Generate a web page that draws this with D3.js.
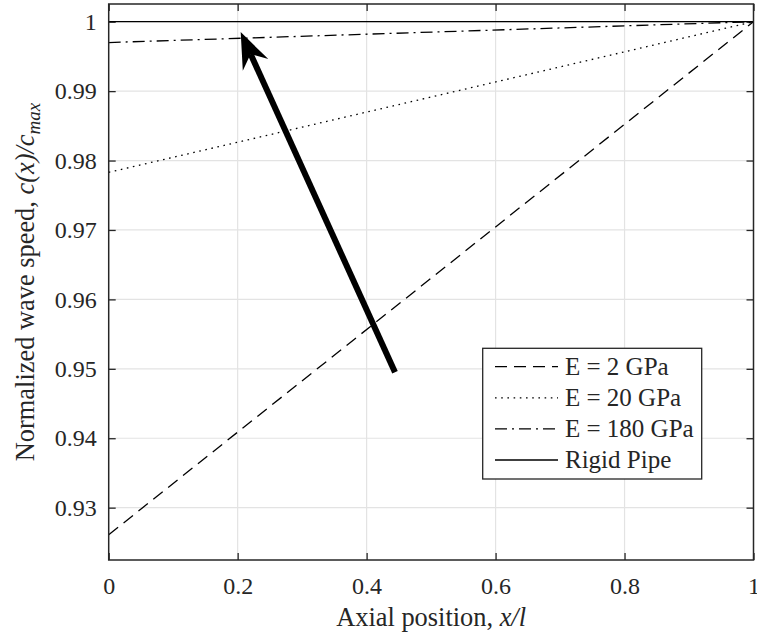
<!DOCTYPE html>
<html>
<head>
	<meta charset="utf-8"/>
	<title>Normalized wave speed</title>
	<style>
		body { margin: 0; background: #fff; }
		svg text { font-family: "Liberation Serif", "Times New Roman", serif; fill: #262626; }
	</style>
</head>
<body>
	<svg width="757" height="636" id="viz" font-family="Liberation Serif, Times New Roman, serif"></svg>

	<script src="https://cdn.jsdelivr.net/npm/d3@7"></script>
	<script>

		//Datos
		var posicion = [0, 1];
		var e2 = [0.9261, 1];
		var e20 = [0.9783, 1];
		var e180 = [0.9970, 1];
		var rigida = [1, 1];
		var nombres = ["E = 2 GPa", "E = 20 GPa", "E = 180 GPa", "Rigid Pipe"];
		var xTicks = [0, 0.2, 0.4, 0.6, 0.8, 1];
		var yTicks = [0.93, 0.94, 0.95, 0.96, 0.97, 0.98, 0.99, 1];
		var flechaDesde = [0.444, 0.9495], flechaHasta = [0.2047, 0.9985];

		var series = [e2, e20, e180, rigida];
		var estilos = ["12,7", "1.6,4.6", "12,5,2,5", null];

		//Escalas
		const mLeft = 108.7, mRight = 753.5, mTop = 4, mBottom = 560;
		const fuente = "Liberation Serif";

		const x = d3.scaleLinear().domain([0, 1]).range([mLeft, mRight]);
		const y = d3.scaleLinear().domain([0.92246, 1.00255]).range([mBottom, mTop]);

		var svg = d3.select("#viz");

		//Grid
		svg.append("g").selectAll("line").data(xTicks.slice(1, -1)).join("line")
			.attr("x1", d => x(d)).attr("x2", d => x(d))
			.attr("y1", mTop).attr("y2", mBottom)
			.attr("stroke", "#e3e3e3").attr("stroke-width", 1.2);
		svg.append("g").selectAll("line").data(yTicks).join("line")
			.attr("x1", mLeft).attr("x2", mRight)
			.attr("y1", d => y(d)).attr("y2", d => y(d))
			.attr("stroke", "#e3e3e3").attr("stroke-width", 1.2);

		//Ejes (ticks hacia adentro, caja completa)
		const fmt = d => d3.format("")(+d.toFixed(2));
		svg.append("g").attr("transform", `translate(0,${mBottom})`)
			.call(d3.axisBottom(x).tickValues(xTicks).tickSize(-7).tickPadding(17).tickFormat(fmt))
			.attr("font-family", fuente)
			.call(g => g.select(".domain").remove())
			.call(g => g.selectAll("text").attr("font-size", 24).attr("dy", "0.71em"));
		svg.append("g").attr("transform", `translate(0,${mTop})`)
			.call(d3.axisTop(x).tickValues(xTicks).tickSize(-7).tickFormat(""))
			.call(g => g.select(".domain").remove());
		svg.append("g").attr("transform", `translate(${mLeft},0)`)
			.call(d3.axisLeft(y).tickValues(yTicks).tickSize(-7).tickPadding(12).tickFormat(fmt))
			.attr("font-family", fuente)
			.call(g => g.select(".domain").remove())
			.call(g => g.selectAll("text").attr("font-size", 24));
		svg.append("g").attr("transform", `translate(${mRight},0)`)
			.call(d3.axisRight(y).tickValues(yTicks).tickSize(-7).tickFormat(""))
			.call(g => g.select(".domain").remove());
		svg.selectAll(".tick line").attr("stroke", "#262626").attr("stroke-width", 1.3);

		//Lineas
		const linea = d3.line().x((d, i) => x(posicion[i])).y(d => y(d));
		svg.append("g").selectAll("path").data(series).join("path")
			.attr("d", d => linea(d))
			.attr("fill", "none")
			.attr("stroke", "#000")
			.attr("stroke-width", 1.3)
			.attr("stroke-dasharray", (d, i) => estilos[i]);

		//Caja
		svg.append("rect")
			.attr("x", mLeft).attr("y", mTop)
			.attr("width", mRight - mLeft).attr("height", mBottom - mTop)
			.attr("fill", "none").attr("stroke", "#262626").attr("stroke-width", 1.5);

		//Flecha
		var x0 = x(flechaDesde[0]), y0 = y(flechaDesde[1]);
		var x1 = x(flechaHasta[0]), y1 = y(flechaHasta[1]);
		var dx = x0 - x1, dy = y0 - y1, len = Math.hypot(dx, dy);
		var ux = dx / len, uy = dy / len, px = -uy, py = ux;
		var largo = 36, ancho = 14, muesca = 24;
		svg.append("line")
			.attr("x1", x0).attr("y1", y0)
			.attr("x2", x1 + ux * muesca).attr("y2", y1 + uy * muesca)
			.attr("stroke", "#000").attr("stroke-width", 6);
		svg.append("path")
			.attr("d", d3.line()([
				[x1, y1],
				[x1 + ux * largo + px * ancho, y1 + uy * largo + py * ancho],
				[x1 + ux * muesca, y1 + uy * muesca],
				[x1 + ux * largo - px * ancho, y1 + uy * largo - py * ancho]
			]) + "Z")
			.attr("fill", "#000");

		//Etiquetas de ejes
		svg.append("text")
			.attr("x", (mLeft + mRight) / 2).attr("y", 626)
			.attr("text-anchor", "middle").attr("font-size", 26.4)
			.call(t => {
				t.append("tspan").text("Axial position, ");
				t.append("tspan").attr("font-style", "italic").text("x/l");
			});
		svg.append("text")
			.attr("transform", `translate(34,${(mTop + mBottom) / 2}) rotate(-90)`)
			.attr("text-anchor", "middle").attr("font-size", 26.4)
			.call(t => {
				t.append("tspan").text("Normalized wave speed, ");
				t.append("tspan").attr("font-style", "italic").text("c(x)/c");
				t.append("tspan").attr("font-style", "italic").attr("font-size", 19).attr("dy", 6).text("max");
			});

		//Leyenda
		var ley = svg.append("g");
		ley.append("rect")
			.attr("x", 482.7).attr("y", 348.3).attr("width", 219).attr("height", 130.7)
			.attr("fill", "#fff").attr("stroke", "#262626").attr("stroke-width", 1.3);
		var filas = ley.selectAll("g.fila").data(nombres).join("g")
			.attr("class", "fila")
			.attr("transform", (d, i) => `translate(0,${366.7 + i * 31.1})`);
		filas.append("line")
			.attr("x1", 495).attr("x2", 558).attr("y1", 0).attr("y2", 0)
			.attr("stroke", "#000").attr("stroke-width", 1.3)
			.attr("stroke-dasharray", (d, i) => estilos[i]);
		filas.append("text")
			.attr("x", 565).attr("y", 0).attr("dy", "0.33em")
			.attr("font-size", 25).attr("fill", "#000")
			.text(d => d);

	</script>
</body>
</html>
